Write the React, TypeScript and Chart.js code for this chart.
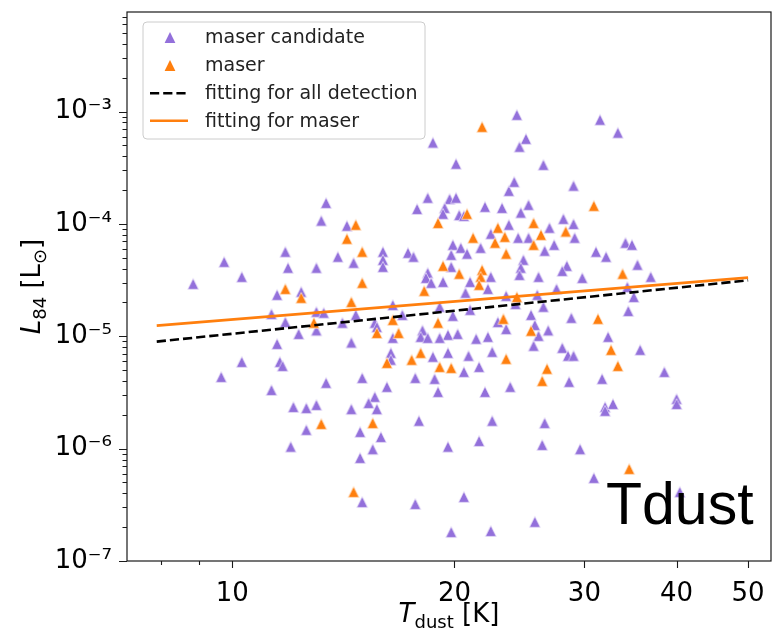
import React, { useEffect, useRef } from "react";
import { Chart, registerables } from "chart.js";

Chart.register(...registerables);

// ---- data ----
const candidateT = [
  18.7, 20.1, 18.4, 17.8, 19.7, 20.1, 19.4, 19.3, 20.3, 20.6,
  22.0, 23.2, 23.7, 22.4, 23.7, 19.9, 19.8, 20.4, 20.8, 24.3,
  31.5, 33.3, 25.0, 24.5, 26.4, 24.1, 29.0, 25.2, 24.6, 28.1,
  29.0, 26.9, 24.4, 25.2, 29.1, 27.3, 26.5, 21.7, 34.1, 34.8,
  31.1, 32.1, 24.8, 24.6, 24.5, 35.4, 28.4, 28.0, 29.8, 36.9,
  19.8, 22.4, 22.2, 21.0, 20.7, 19.3, 26.0, 27.5, 23.5, 24.2,
  25.9, 26.4, 34.3, 35.0, 34.4, 21.0, 19.9, 25.4, 25.7, 28.8,
  22.9, 23.5, 26.8, 26.0, 21.4, 22.2, 32.3, 19.6, 20.2, 25.6,
  35.7, 22.5, 20.9, 28.0, 28.5, 29.0, 20.6, 21.6, 23.8, 22.0,
  31.7, 28.6, 38.5, 40.0, 40.0, 32.0, 32.8, 32.0, 22.5, 26.5,
  19.6, 21.6, 26.3, 29.6, 30.9, 40.4, 20.6, 25.7, 19.8, 22.4,
  11.5, 14.5, 10.3, 11.6, 11.7, 9.66, 11.3, 13.4, 15.0, 16.4,
  16.4, 18.7, 19.6, 17.7, 18.8, 19.0, 16.2, 12.1, 12.6, 13.0,
  14.5, 15.6, 15.3, 15.7, 12.6, 14.9, 15.9, 17.9, 12.0, 15.5,
  14.9, 15.0, 17.7, 13.4, 13.2, 14.3, 11.8, 9.75, 10.3, 8.85,
  11.9, 13.0, 13.9, 14.6, 16.0, 16.0, 16.0, 17.3, 17.6, 18.4,
  18.3, 18.6, 11.5, 12.4, 11.3, 11.8, 13.0, 13.3, 13.0, 12.3,
  14.7, 14.1, 16.5, 17.0, 15.6, 15.7, 16.5, 18.1, 18.0, 18.4,
  19.1, 19.1,
];
const candidateL = [
  5.3e-4, 3.43e-4, 1.71e-4, 1.36e-4, 1.67e-4, 1.71e-4, 1.39e-4, 1.23e-4, 1.2e-4, 1.18e-4,
  1.42e-4, 1.39e-4, 1.97e-4, 8.17e-5, 9.83e-5, 6.52e-5, 5.31e-5, 6.13e-5, 5.43e-5, 9.36e-4,
  8.46e-4, 6.49e-4, 5.72e-4, 4.86e-4, 3.36e-4, 2.37e-4, 2.19e-4, 1.48e-4, 1.26e-4, 1.11e-4,
  1.0e-4, 9.24e-5, 7.53e-5, 7.53e-5, 7.53e-5, 6.52e-5, 5.77e-5, 6.13e-5, 6.8e-5, 6.52e-5,
  5.65e-5, 5.1e-5, 4.79e-5, 4.07e-5, 3.52e-5, 4.33e-5, 4.24e-5, 3.82e-5, 3.31e-5, 3.38e-5,
  4.15e-5, 3.38e-5, 2.64e-5, 3.05e-5, 2.44e-5, 3.05e-5, 3.38e-5, 2.64e-5, 2.29e-5, 1.94e-5,
  2.34e-5, 1.83e-5, 2.75e-5, 2.24e-5, 1.68e-5, 1.72e-5, 1.52e-5, 1.55e-5, 1.26e-5, 1.46e-5,
  1.34e-5, 1.16e-5, 1.13e-5, 1.01e-5, 9.5e-6, 9.89e-6, 9.89e-6, 1.03e-5, 1.05e-5, 8.23e-6,
  7.58e-6, 7.27e-6, 6.71e-6, 7.89e-6, 6.71e-6, 6.71e-6, 4.82e-6, 5.34e-6, 3.55e-6, 3.2e-6,
  4.18e-6, 3.93e-6, 4.82e-6, 2.77e-6, 2.5e-6, 2.35e-6, 2.5e-6, 2.17e-6, 1.77e-6, 1.69e-6,
  1.04e-6, 1.17e-6, 1.08e-6, 9.9e-7, 5.49e-7, 4.12e-7, 3.72e-7, 2.23e-7, 1.81e-7, 1.85e-7,
  8.56e-6, 8.8e-6, 5.92e-6, 5.92e-6, 5.45e-6, 4.35e-6, 3.33e-6, 3.85e-6, 4.26e-6, 7.12e-6,
  6.18e-6, 6.57e-6, 7.12e-6, 4.26e-6, 4.18e-6, 3.2e-6, 3.55e-6, 2.35e-6, 2.3e-6, 2.45e-6,
  2.25e-6, 2.89e-6, 2.55e-6, 2.25e-6, 1.47e-6, 1.41e-6, 1.27e-6, 1.77e-6, 1.04e-6, 9.9e-7,
  8.27e-7, 3.35e-7, 3.22e-7, 1.54e-4, 1.07e-4, 9.63e-5, 5.65e-5, 4.6e-5, 3.38e-5, 2.93e-5,
  4.07e-5, 4.07e-5, 5.1e-5, 4.51e-5, 5.65e-5, 4.79e-5, 4.15e-5, 5.53e-5, 5.1e-5, 3.67e-5,
  3.31e-5, 2.99e-5, 2.34e-5, 2.49e-5, 1.58e-5, 1.34e-5, 1.65e-5, 1.62e-5, 1.13e-5, 1.05e-5,
  1.55e-5, 1.32e-5, 1.9e-5, 1.55e-5, 1.32e-5, 1.21e-5, 9.69e-6, 1.13e-5, 9.89e-6, 9.69e-6,
  1.83e-5, 9.69e-6,
];

const maserT = [
  21.8, 20.8, 19.0, 22.9, 23.4, 21.2, 22.7, 30.9, 25.6, 28.3,
  26.2, 25.6, 23.5, 33.8, 19.3, 20.3, 21.8, 21.7, 21.6, 24.3,
  31.3, 23.3, 25.4, 32.6, 33.3, 23.5, 26.7, 26.3, 19.1, 19.8,
  34.5, 16.2, 17.5, 18.0, 13.2, 15.5, 14.6, 14.7, 14.3, 15.0,
  15.0, 18.2, 11.8, 12.4, 14.5, 12.9, 16.5, 15.7, 16.8, 19.0,
];
const maserL = [
  7.32e-4, 1.23e-4, 1.02e-4, 9.24e-5, 7.68e-5, 7.53e-5, 6.8e-5, 1.45e-4, 1.02e-4, 8.56e-5,
  8.0e-5, 6.52e-5, 5.43e-5, 3.6e-5, 4.24e-5, 3.6e-5, 3.9e-5, 3.38e-5, 2.87e-5, 2.24e-5,
  1.43e-5, 1.43e-5, 1.12e-5, 7.58e-6, 5.45e-6, 6.3e-6, 5.14e-6, 4.01e-6, 5.34e-6, 5.23e-6,
  6.6e-7, 5.8e-6, 6.18e-6, 7.12e-6, 1.66e-6, 1.69e-6, 4.12e-7, 9.83e-5, 7.38e-5, 5.65e-5,
  2.99e-5, 2.54e-5, 2.64e-5, 2.2e-5, 2.02e-5, 1.32e-5, 1.4e-5, 1.07e-5, 1.07e-5, 1.32e-5,
];

const fitAllT = [7.9, 50];
const fitAllL = [8.97e-6, 3.15e-5];
const fitMaserT = [7.9, 50];
const fitMaserL = [1.245e-5, 3.33e-5];

const xTickValues = [10, 20, 30, 40, 50];
const xMinorValues = [8, 9];
const yTickValues = [1e-7, 1e-6, 1e-5, 1e-4, 1e-3];
const yTickLabels = ["10⁻⁷", "10⁻⁶", "10⁻⁵", "10⁻⁴", "10⁻³"];
const legendLabels = ["maser candidate", "maser", "fitting for all detection", "fitting for maser"];
const annotationText = "Tdust";

const X_MIN = 7.2;
const X_MAX = 53.7;
const Y_MIN = 1e-7;
const Y_MAX = 7.7e-3;

const PURPLE = "#9370db";
const ORANGE = "#ff7f0e";
const FONT = '"DejaVu Sans", sans-serif';

function makeTriangle(fill: string, edge: string): HTMLCanvasElement {
  const c = document.createElement("canvas");
  c.width = 16;
  c.height = 16;
  const ctx = c.getContext("2d")!;
  const h = 5.4;
  ctx.beginPath();
  ctx.moveTo(8, 8 - h);
  ctx.lineTo(8 - h, 8 + h);
  ctx.lineTo(8 + h, 8 + h);
  ctx.closePath();
  ctx.fillStyle = fill;
  ctx.fill();
  ctx.lineWidth = 0.8;
  ctx.strokeStyle = edge;
  ctx.stroke();
  return c;
}

function drawTri(ctx: CanvasRenderingContext2D, x: number, y: number, fill: string) {
  const h = 5.4;
  ctx.beginPath();
  ctx.moveTo(x, y - h);
  ctx.lineTo(x - h, y + h);
  ctx.lineTo(x + h, y + h);
  ctx.closePath();
  ctx.fillStyle = fill;
  ctx.fill();
}

const decorPlugin = {
  id: "decor",
  afterDatasetsDraw(chart: any) {
    const ctx: CanvasRenderingContext2D = chart.ctx;
    const area = chart.chartArea;
    const xs = chart.scales.x;
    const ys = chart.scales.y;
    ctx.save();

    // frame
    ctx.strokeStyle = "#1a1a1a";
    ctx.lineWidth = 1.2;
    ctx.strokeRect(area.left, area.top, area.right - area.left, area.bottom - area.top);

    // x ticks
    ctx.beginPath();
    ctx.lineWidth = 1.1;
    for (const v of xTickValues) {
      const px = Math.round(xs.getPixelForValue(v)) + 0.5;
      ctx.moveTo(px, area.bottom);
      ctx.lineTo(px, area.bottom + 7);
    }
    for (const v of xMinorValues) {
      const px = Math.round(xs.getPixelForValue(v)) + 0.5;
      ctx.moveTo(px, area.bottom);
      ctx.lineTo(px, area.bottom + 4);
    }
    // y ticks
    for (let d = -7; d <= -3; d++) {
      const base = Math.pow(10, d);
      const py = Math.round(ys.getPixelForValue(base)) + 0.5;
      ctx.moveTo(area.left, py);
      ctx.lineTo(area.left - 8, py);
      for (let m = 2; m <= 9; m++) {
        const v = m * base;
        if (v > Y_MAX) break;
        const pm = Math.round(ys.getPixelForValue(v)) + 0.5;
        ctx.moveTo(area.left, pm);
        ctx.lineTo(area.left - 4.5, pm);
      }
    }
    ctx.stroke();

    // axis titles
    ctx.fillStyle = "#000";
    ctx.textBaseline = "alphabetic";
    const drawRuns = (runs: { t: string; f: string; dy: number }[], cx: number, cy: number) => {
      let total = 0;
      for (const r of runs) {
        ctx.font = r.f;
        total += ctx.measureText(r.t).width;
      }
      let x = cx - total / 2;
      for (const r of runs) {
        ctx.font = r.f;
        ctx.fillText(r.t, x, cy + r.dy);
        x += ctx.measureText(r.t).width;
      }
    };
    const cxPlot = (area.left + area.right) / 2;
    drawRuns(
      [
        { t: "T", f: `italic 26px ${FONT}`, dy: 0 },
        { t: "dust", f: `18px ${FONT}`, dy: 6 },
        { t: " [K]", f: `26px ${FONT}`, dy: 0 },
      ],
      cxPlot,
      622
    );
    ctx.save();
    ctx.translate(40, (area.top + area.bottom) / 2);
    ctx.rotate(-Math.PI / 2);
    drawRuns(
      [
        { t: "L", f: `italic 26px ${FONT}`, dy: 0 },
        { t: "84", f: `18px ${FONT}`, dy: 6 },
        { t: " [L", f: `26px ${FONT}`, dy: 0 },
        { t: "⊙", f: `18px ${FONT}`, dy: 6 },
        { t: "]", f: `26px ${FONT}`, dy: 0 },
      ],
      0,
      0
    );
    ctx.restore();

    // annotation
    ctx.font = '59px "Liberation Sans", Arial, sans-serif';
    ctx.fillStyle = "#000";
    ctx.fillText(annotationText, 606, 524);

    // legend
    const lx = 143, ly = 22, lw = 282, lh = 117, r = 4;
    ctx.beginPath();
    ctx.moveTo(lx + r, ly);
    ctx.lineTo(lx + lw - r, ly);
    ctx.quadraticCurveTo(lx + lw, ly, lx + lw, ly + r);
    ctx.lineTo(lx + lw, ly + lh - r);
    ctx.quadraticCurveTo(lx + lw, ly + lh, lx + lw - r, ly + lh);
    ctx.lineTo(lx + r, ly + lh);
    ctx.quadraticCurveTo(lx, ly + lh, lx, ly + lh - r);
    ctx.lineTo(lx, ly + r);
    ctx.quadraticCurveTo(lx, ly, lx + r, ly);
    ctx.closePath();
    ctx.fillStyle = "rgba(255,255,255,0.85)";
    ctx.fill();
    ctx.strokeStyle = "#cccccc";
    ctx.lineWidth = 1;
    ctx.stroke();

    const rows = [37.5, 65.5, 93.3, 120.7];
    drawTri(ctx, 170, rows[0], PURPLE);
    drawTri(ctx, 170, rows[1], ORANGE);
    ctx.beginPath();
    ctx.setLineDash([9.2, 4]);
    ctx.strokeStyle = "#000";
    ctx.lineWidth = 2.6;
    ctx.moveTo(150, rows[2]);
    ctx.lineTo(188, rows[2]);
    ctx.stroke();
    ctx.setLineDash([]);
    ctx.beginPath();
    ctx.strokeStyle = ORANGE;
    ctx.lineWidth = 2.6;
    ctx.moveTo(150, rows[3]);
    ctx.lineTo(188, rows[3]);
    ctx.stroke();

    ctx.font = `19px ${FONT}`;
    ctx.fillStyle = "#222";
    ctx.textBaseline = "middle";
    legendLabels.forEach((t, i) => ctx.fillText(t, 205, rows[i] + 1));

    ctx.restore();
  },
};

export default function App() {
  const ref = useRef<HTMLCanvasElement>(null);

  useEffect(() => {
    const purpleImg = makeTriangle(PURPLE, "rgba(236,228,250,0.9)");
    const orangeImg = makeTriangle(ORANGE, "rgba(255,232,210,0.9)");
    const chart = new Chart(ref.current!, {
      type: "scatter",
      data: {
        datasets: [
          {
            label: legendLabels[3],
            data: fitMaserT.map((t, i) => ({ x: t, y: fitMaserL[i] })),
            showLine: true,
            borderColor: ORANGE,
            borderWidth: 2.6,
            pointRadius: 0,
            order: 1,
          } as any,
          {
            label: legendLabels[2],
            data: fitAllT.map((t, i) => ({ x: t, y: fitAllL[i] })),
            showLine: true,
            borderColor: "#000",
            borderWidth: 2.6,
            borderDash: [9.2, 4],
            pointRadius: 0,
            order: 2,
          } as any,
          {
            label: legendLabels[1],
            data: maserT.map((t, i) => ({ x: t, y: maserL[i] })),
            pointStyle: orangeImg,
            pointRadius: 6,
            order: 3,
          } as any,
          {
            label: legendLabels[0],
            data: candidateT.map((t, i) => ({ x: t, y: candidateL[i] })),
            pointStyle: purpleImg,
            pointRadius: 6,
            order: 4,
          } as any,
        ],
      },
      options: {
        responsive: false,
        animation: false,
        devicePixelRatio: 1,
        events: [],
        layout: { padding: { left: 0, top: 12, right: 8, bottom: 0 } },
        plugins: { legend: { display: false }, tooltip: { enabled: false } },
        scales: {
          x: {
            type: "logarithmic",
            min: X_MIN,
            max: X_MAX,
            grid: { display: false, drawTicks: false },
            border: { display: false },
            afterBuildTicks: (scale: any) => {
              scale.ticks = xTickValues.map((v) => ({ value: v }));
            },
            afterFit: (scale: any) => {
              scale.height = 74;
              scale.paddingLeft = 0;
              scale.paddingRight = 0;
              scale.paddingTop = 0;
              scale.paddingBottom = 0;
            },
            ticks: {
              autoSkip: false,
              maxRotation: 0,
              minRotation: 0,
              padding: 18,
              color: "#000",
              font: { family: FONT, size: 26, lineHeight: 1.2 },
              callback: (v: any) => String(v),
            },
          },
          y: {
            type: "logarithmic",
            min: Y_MIN,
            max: Y_MAX,
            grid: { display: false, drawTicks: false },
            border: { display: false },
            afterBuildTicks: (scale: any) => {
              scale.ticks = yTickValues.map((v) => ({ value: v }));
            },
            afterFit: (scale: any) => {
              scale.width = 127;
              scale.paddingLeft = 0;
              scale.paddingRight = 0;
              scale.paddingTop = 0;
              scale.paddingBottom = 0;
            },
            ticks: {
              autoSkip: false,
              padding: 15,
              color: "#000",
              font: { family: FONT, size: 26, lineHeight: 0.9 },
              callback: (v: any) => {
                const i = yTickValues.findIndex((t) => Math.abs(Math.log10(t) - Math.log10(v)) < 1e-6);
                return i >= 0 ? yTickLabels[i] : "";
              },
            },
          },
        },
      } as any,
      plugins: [decorPlugin],
    });
    return () => chart.destroy();
  }, []);

  return (
    <div style={{ position: "absolute", left: 0, top: 0, width: 779, height: 635, background: "#fff" }}>
      <canvas ref={ref} width={779} height={635} style={{ display: "block" }} />
    </div>
  );
}
